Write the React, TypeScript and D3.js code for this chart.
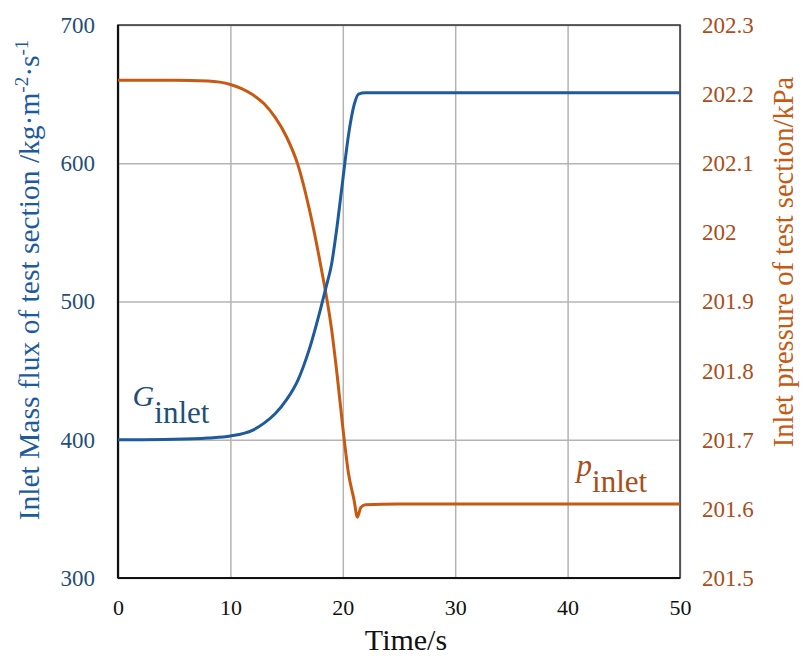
import { useEffect, useRef } from "react";
import * as d3 from "d3";

// time axis (s)
const xTicks = [0, 10, 20, 30, 40, 50];
const leftTicks = [300, 400, 500, 600, 700];
const rightTicks = [201.5, 201.6, 201.7, 201.8, 201.9, 202, 202.1, 202.2, 202.3];

// inlet mass flux G (kg m-2 s-1)
const gTime = [0, 5, 8, 10, 12, 13, 14, 15, 16, 17, 18, 18.5, 19, 19.5, 20, 20.5, 21, 21.4, 22, 25, 50];
const gValue = [400, 400.4, 401.3, 402.7, 407, 412, 419, 429, 443, 465, 494, 510, 527, 555, 588, 620, 642, 650, 651, 651, 651];

// inlet pressure p (kPa)
const pTime = [0, 5, 8, 10, 11, 12, 13, 14, 15, 16, 17, 18, 19, 19.5, 20, 20.5, 21, 21.3, 21.6, 22, 25, 50];
const pValue = [202.22, 202.22, 202.219, 202.214, 202.208, 202.199, 202.186, 202.166, 202.138, 202.098, 202.035, 201.955, 201.86, 201.793, 201.718, 201.652, 201.613, 201.588, 201.602, 201.606, 201.607, 201.607];

const W = 807;
const H = 659;
const margin = { left: 118, right: 127, top: 25, bottom: 81 };

const blue = "#1f5a9c";
const blueText = "#1f4e79";
const orange = "#c65a12";
const orangeText = "#a84e18";
const serif = "Liberation Serif";

const App = () => {
  const svgRef = useRef<SVGSVGElement>(null);

  useEffect(() => {
    const width = W - margin.left - margin.right;
    const height = H - margin.top - margin.bottom;

    const x = d3.scaleLinear().domain([0, 50]).range([0, width]);
    const yL = d3.scaleLinear().domain([300, 700]).range([height, 0]);
    const yR = d3.scaleLinear().domain([201.5, 202.3]).range([height, 0]);

    const svgEl = d3.select(svgRef.current);
    svgEl.selectAll("*").remove();
    svgEl.append("rect").attr("width", W).attr("height", H).attr("fill", "#fff");

    const svg = svgEl.append("g").attr("transform", `translate(${margin.left}, ${margin.top})`);

    // grid lines
    const xGrid = svg.append("g")
      .attr("transform", `translate(0, ${height})`)
      .call(d3.axisBottom(x).tickValues(xTicks).tickSize(-height).tickFormat(() => ""));
    xGrid.select(".domain").remove();
    xGrid.selectAll("line").attr("stroke", "#b4b4b4").attr("stroke-width", 1.5);

    const yGrid = svg.append("g")
      .call(d3.axisLeft(yL).tickValues(leftTicks).tickSize(-width).tickFormat(() => ""));
    yGrid.select(".domain").remove();
    yGrid.selectAll("line").attr("stroke", "#b4b4b4").attr("stroke-width", 1.5);

    // frame
    svg.append("rect")
      .attr("width", width).attr("height", height)
      .attr("fill", "none").attr("stroke", "#333").attr("stroke-width", 1.5);
    svg.append("line").attr("x1", 0).attr("x2", 0).attr("y1", 0).attr("y2", height)
      .attr("stroke", "#111").attr("stroke-width", 2.2);
    svg.append("line").attr("x1", 0).attr("x2", width).attr("y1", height).attr("y2", height)
      .attr("stroke", "#111").attr("stroke-width", 2.2);

    // tick labels
    const xAx = svg.append("g")
      .attr("transform", `translate(0, ${height})`)
      .call(d3.axisBottom(x).tickValues(xTicks).tickSize(0).tickPadding(21));
    xAx.select(".domain").remove();
    xAx.selectAll("text").style("font-family", serif).style("font-size", "22px").attr("fill", "#111");

    const yAxL = svg.append("g")
      .call(d3.axisLeft(yL).tickValues(leftTicks).tickSize(0).tickPadding(23));
    yAxL.select(".domain").remove();
    yAxL.selectAll("text").style("font-family", serif).style("font-size", "23px").attr("fill", blueText);

    const yAxR = svg.append("g")
      .attr("transform", `translate(${width}, 0)`)
      .call(d3.axisRight(yR).tickValues(rightTicks).tickSize(0).tickPadding(22).tickFormat((v) => String(v)));
    yAxR.select(".domain").remove();
    yAxR.selectAll("text").style("font-family", serif).style("font-size", "23px").attr("fill", orangeText);

    // curves
    const gLine = d3.line<number>()
      .x((_, i) => x(gTime[i]))
      .y((d) => yL(d))
      .curve(d3.curveMonotoneX);
    const pLine = d3.line<number>()
      .x((_, i) => x(pTime[i]))
      .y((d) => yR(d))
      .curve(d3.curveMonotoneX);

    svg.append("path")
      .attr("d", pLine(pValue))
      .attr("fill", "none").attr("stroke", orange).attr("stroke-width", 3);
    svg.append("path")
      .attr("d", gLine(gValue))
      .attr("fill", "none").attr("stroke", blue).attr("stroke-width", 3);

    // series labels
    const gLab = svg.append("text")
      .attr("x", x(1.3)).attr("y", yL(424.5))
      .style("font-family", serif).style("font-size", "30px").attr("fill", blueText);
    gLab.append("tspan").style("font-style", "italic").text("G");
    gLab.append("tspan").attr("dy", 17).style("font-size", "31px").text("inlet");

    const pLab = svg.append("text")
      .attr("x", x(40.8)).attr("y", yR(201.648))
      .style("font-family", serif).style("font-size", "31px").attr("fill", orangeText);
    pLab.append("tspan").style("font-style", "italic").text("p");
    pLab.append("tspan").attr("dy", 16).text("inlet");

    // axis titles
    svgEl.append("text")
      .attr("x", 406).attr("y", 650)
      .attr("text-anchor", "middle")
      .style("font-family", serif).style("font-size", "30px").attr("fill", "#111")
      .text("Time/s");

    const lt = svgEl.append("text")
      .attr("transform", `translate(39, 280) rotate(-90)`)
      .attr("text-anchor", "middle")
      .style("font-family", serif).style("font-size", "29.5px").attr("fill", blue);
    lt.append("tspan").text("Inlet Mass flux of test section /kg·m");
    lt.append("tspan").attr("dy", -11).style("font-size", "19px").text("-2");
    lt.append("tspan").attr("dy", 11).text("·s");
    lt.append("tspan").attr("dy", -11).style("font-size", "19px").text("-1");

    svgEl.append("text")
      .attr("transform", `translate(793, 262) rotate(-90)`)
      .attr("text-anchor", "middle")
      .style("font-family", serif).style("font-size", "28.5px").attr("fill", orange)
      .text("Inlet pressure of test section/kPa");
  }, []);

  return (
    <svg
      ref={svgRef}
      width={W}
      height={H}
      viewBox={`0 0 ${W} ${H}`}
      style={{ position: "absolute", left: 0, top: 0 }}
    />
  );
};

export default App;
